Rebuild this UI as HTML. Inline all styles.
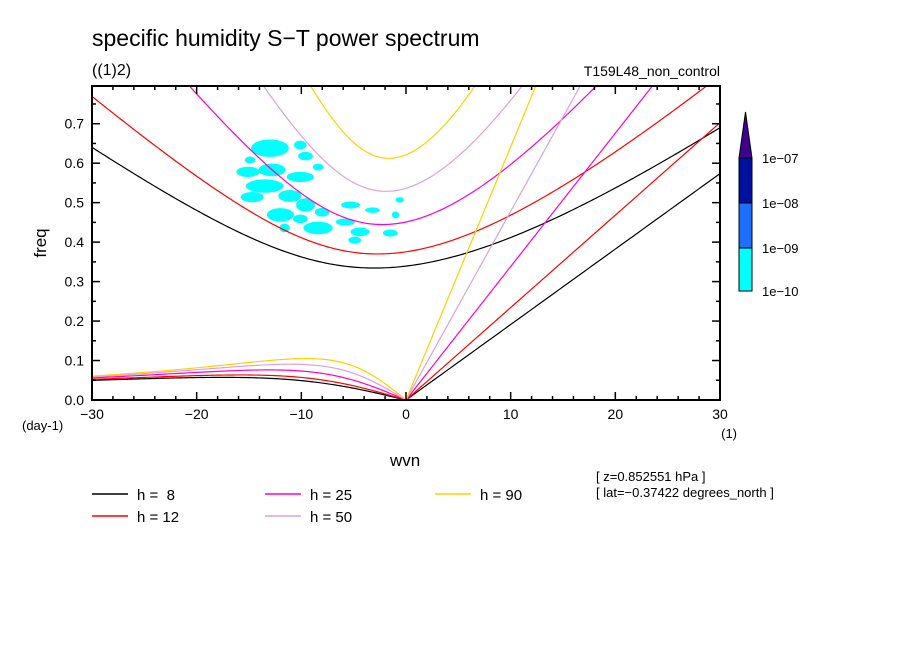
<!DOCTYPE html>
<html><head><meta charset="utf-8"><style>
body{margin:0;background:#fff}
svg{display:block;font-family:"Liberation Sans",sans-serif}
</style></head><body>
<svg id="chart" width="904" height="654" viewBox="0 0 904 654">
<defs><clipPath id="pc"><rect x="92" y="86" width="628" height="314"/></clipPath></defs>
<rect width="904" height="654" fill="#fff"/>
<text x="92" y="46" font-size="23">specific humidity S−T power spectrum</text>
<text x="92" y="75" font-size="16">((1)2)</text>
<text x="720" y="76" font-size="14" text-anchor="end">T159L48_non_control</text>
<g id="gblobs"></g>
<g id="gcurves"></g>
<rect x="92" y="86" width="628" height="314" fill="none" stroke="#000" stroke-width="2"/>
<g id="gaxes"></g>
<text x="46" y="243" font-size="17" transform="rotate(-90 46 243)" text-anchor="middle">freq</text>
<text x="22" y="430" font-size="13">(day-1)</text>
<text x="737" y="438" font-size="13" text-anchor="end">(1)</text>
<text x="390" y="466" font-size="17">wvn</text>
<text x="596" y="481" font-size="13">[ z=0.852551 hPa ]</text>
<text x="596" y="497" font-size="13">[ lat=−0.37422 degrees_north ]</text>
<g id="glegend"></g>
<g id="gcbar"></g>
</svg>
<script>
var depths=[8,12,25,50,90];
var depthColors=["#000000","#ff0000","#ff00c8","#dda0dd","#ffd000"];
var xTicks=[-30,-20,-10,0,10,20,30];
var yTicks=[0,0.1,0.2,0.3,0.4,0.5,0.6,0.7];
var yTickLabels=["0.0","0.1","0.2","0.3","0.4","0.5","0.6","0.7"];
var blobK=[-13,-10.1,-9.6,-14.9,-15.1,-12.8,-10.1,-8.4,-13.5,-14.7,-11.1,-9.6,-12,-10.1,-8,-5.3,-3.2,-0.6,-5.8,-8.4,-4.4,-1.5,-1,-4.9,-11.6];
var blobF=[.638,.646,.618,.608,.578,.583,.565,.59,.542,.514,.517,.494,.469,.459,.476,.494,.481,.507,.451,.436,.426,.423,.469,.405,.436];
var blobRk=[1.8,.6,.7,.5,1.1,1.3,1.3,.5,1.8,1.1,1.1,.9,1.3,.7,.7,.9,.7,.4,.9,1.4,.9,.7,.35,.6,.5];
var blobRf=[.022,.011,.011,.009,.013,.016,.013,.009,.017,.013,.015,.017,.017,.011,.011,.009,.007,.007,.009,.016,.011,.009,.009,.009,.011];
var cbarLabels=["1e-07","1e-08","1e-09","1e-10"];
var cbarColors=["#00ffff","#1f6fff","#0010a0"];
var SVGNS="http://www.w3.org/2000/svg";
var PX0=92,PX1=720,PY0=400,PY1=86,KMIN=-30,KMAX=30,FMAX=(400-86)/394.7;
function xs(k){return PX0+(k-KMIN)/(KMAX-KMIN)*(PX1-PX0);}
function ys(f){return PY0-f/FMAX*(PY0-PY1);}
function mk(t,attrs,parent){var e=document.createElementNS(SVGNS,t);for(var key in attrs){e.setAttribute(key,attrs[key]);}parent.appendChild(e);return e;}
try{
var bg=document.getElementById('gblobs');
for(var i=0;i<blobK.length;i++){
 var e=mk('ellipse',{cx:xs(blobK[i]),cy:ys(blobF[i]),rx:blobRk[i]*10.47,ry:blobRf[i]*394.7,fill:'#00ffff'},bg);
 
 
}
}catch(err){console.log(err);}
try{
var cg=document.getElementById('gcurves');
var beta=2.29e-11,earthR=6.371e6,toCpd=86400/(2*Math.PI);
for(var d=0;d<depths.length;d++){
 var c=Math.sqrt(9.81*depths[d]);
 var ig=[],ro=[],kv=[];
 for(var s=KMIN;s<=KMAX+1e-9;s+=0.25){
  var k=s/earthR,A=c*c*k*k+3*beta*c,B=beta*c*c*k;
  var r=2*Math.sqrt(A/3);
  var arg=(3*B/(2*A))*Math.sqrt(3/A);arg=Math.max(-1,Math.min(1,arg));
  var th=Math.acos(arg)/3;
  var roots=[r*Math.cos(th),r*Math.cos(th-2*Math.PI/3),r*Math.cos(th-4*Math.PI/3)];
  var wmax=Math.max(roots[0],roots[1],roots[2]);
  var wsmall=0;var best=1e9;
  for(var z=0;z<3;z++){if(roots[z]>=-1e-12&&roots[z]<best&&roots[z]<wmax*0.9){best=roots[z];wsmall=Math.max(0,roots[z]);}}
  ig.push(xs(s)+','+ys(wmax*toCpd));
  if(s<=0)ro.push(xs(s)+','+ys(wsmall*toCpd));
  if(s>=0)kv.push(xs(s)+','+ys(c*k*toCpd));
 }
 var sets=[[ig,'ig'],[ro,'rossby'],[kv,'kelvin']];
 for(var j=0;j<3;j++){
  var p=mk('polyline',{points:sets[j][0].join(' '),fill:'none',stroke:depthColors[d],'stroke-width':1.2,'clip-path':'url(#pc)'},cg);
  
  
 }
}
}catch(err){console.log(err);}
try{
var ag=document.getElementById('gaxes');
for(var kk=KMIN;kk<=KMAX;kk+=2){var L=(kk%10===0)?8:4;
 mk('line',{x1:xs(kk),x2:xs(kk),y1:PY0,y2:PY0-L,stroke:'#000','stroke-width':1.5},ag);
 mk('line',{x1:xs(kk),x2:xs(kk),y1:PY1,y2:PY1+L,stroke:'#000','stroke-width':1.5},ag);}
for(var i2=0;i2<xTicks.length;i2++){var t=mk('text',{x:xs(xTicks[i2]),y:419,'font-size':14,'text-anchor':'middle'},ag);t.textContent=String(xTicks[i2]).replace('-','−');
 
 }
for(var m=0;m<=15;m++){var f=m*0.05,L2=(m%2===0)?8:4;
 mk('line',{x1:PX0,x2:PX0+L2,y1:ys(f),y2:ys(f),stroke:'#000','stroke-width':1.5},ag);
 mk('line',{x1:PX1,x2:PX1-L2,y1:ys(f),y2:ys(f),stroke:'#000','stroke-width':1.5},ag);}
for(var i3=0;i3<yTicks.length;i3++){var t2=mk('text',{x:84,y:ys(yTicks[i3])+5,'font-size':14,'text-anchor':'end'},ag);t2.textContent=yTickLabels[i3];
 
 }
}catch(err){console.log(err);}
try{
var lg=document.getElementById('glegend');
var lpos=[[92,494],[92,516],[265,494],[265,516],[435,494]];
for(var q=0;q<depths.length;q++){var lx=lpos[q][0],ly=lpos[q][1];
 var g=mk('g',{},lg);
 
 
 mk('line',{x1:lx,x2:lx+36,y1:ly,y2:ly,stroke:depthColors[q],'stroke-width':1.5},g);
 var t3=mk('text',{x:lx+45,y:ly+6,'font-size':15},g);t3.style.whiteSpace='pre';t3.textContent='h = '+(depths[q]<10?'\u00a0':'')+depths[q];}
}catch(err){console.log(err);}
try{
var cb=document.getElementById('gcbar');
var cby=[291,248,203,158];
for(var b=0;b<cbarColors.length;b++){var rr=mk('rect',{x:739,y:cby[b+1],width:13,height:cby[b]-cby[b+1],fill:cbarColors[b],stroke:'#000','stroke-width':1},cb);
 
 }
var tri=mk('polygon',{points:'739,158 752,158 745.5,112',fill:'#400090',stroke:'#000','stroke-width':1},cb);


for(var u=0;u<cbarLabels.length;u++){var t4=mk('text',{x:762,y:[158,203,248,291][u]+5,'font-size':13},cb);t4.textContent=cbarLabels[u].replace('-','−');
 
 }
}catch(err){console.log(err);}
</script>
</body></html>
